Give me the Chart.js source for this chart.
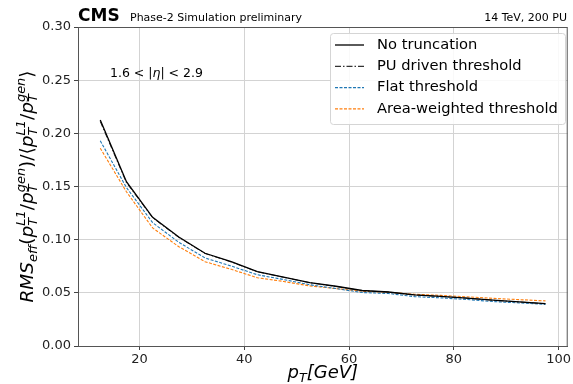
<!DOCTYPE html>
<html>
<head>
<meta charset="utf-8">
<script src="https://cdn.jsdelivr.net/npm/chart.js@4.4.1/dist/chart.umd.min.js"></script>
<style>
  html, body { margin: 0; padding: 0; background: #fff; }
  canvas { display: block; }
</style>
</head>
<body>
<canvas id="rmsChart" width="573" height="384"></canvas>
<script>
// pT bin centres (GeV)
const ptBins = [12.5, 17.5, 22.5, 27.5, 32.5, 37.5, 42.5, 47.5, 52.5, 57.5, 62.5, 67.5, 72.5, 77.5, 82.5, 87.5, 92.5, 97.5];

// effective RMS of the response
const noTruncation = [0.2125, 0.1545, 0.121, 0.1025, 0.0872, 0.0793, 0.0700, 0.0648, 0.0596, 0.0562, 0.0522, 0.0508, 0.0480, 0.0467, 0.0451, 0.0431, 0.0415, 0.0398];
const puDriven     = [0.2110, 0.1535, 0.1205, 0.1020, 0.0870, 0.0790, 0.0698, 0.0646, 0.0595, 0.0560, 0.0520, 0.0507, 0.0479, 0.0466, 0.0450, 0.0430, 0.0414, 0.0397];
const flatThr      = [0.193, 0.149, 0.116, 0.0975, 0.0828, 0.0752, 0.0670, 0.0625, 0.0576, 0.0540, 0.0503, 0.0494, 0.0464, 0.0453, 0.0437, 0.0418, 0.0405, 0.0391];
const areaWeighted = [0.186, 0.145, 0.111, 0.0934, 0.0793, 0.0721, 0.0642, 0.0607, 0.0565, 0.0540, 0.0514, 0.0505, 0.0487, 0.0476, 0.0463, 0.0448, 0.0436, 0.0424];

const seriesNames = ['No truncation', 'PU driven threshold', 'Flat threshold', 'Area-weighted threshold'];
const xTicks = [20, 40, 60, 80, 100];
const yTicks = [0, 0.05, 0.10, 0.15, 0.20, 0.25, 0.30];

const FONT = '"DejaVu Sans", sans-serif';

function pts(ys) {
    return ptBins.map((x, i) => ({ x: x, y: ys[i] }));
}

// mathtext-ish label: parts are {b, sub, sup, it}
function mathWidth(ctx, parts, size) {
    let w = 0;
    parts.forEach(p => {
        ctx.font = (p.it === false ? '' : 'italic ') + size + 'px ' + FONT;
        w += ctx.measureText(p.b || '').width;
        let s = 0;
        ctx.font = (p.it === false ? '' : 'italic ') + (size * 0.7) + 'px ' + FONT;
        if (p.sub) s = Math.max(s, ctx.measureText(p.sub).width);
        if (p.sup) s = Math.max(s, ctx.measureText(p.sup).width);
        w += s;
    });
    return w;
}

function drawMath(ctx, parts, x, y, size) {
    let cx = x;
    ctx.textAlign = 'left';
    ctx.textBaseline = 'alphabetic';
    parts.forEach(p => {
        const it = p.it === false ? '' : 'italic ';
        ctx.font = it + size + 'px ' + FONT;
        if (p.b) {
            ctx.fillText(p.b, cx, y);
            cx += ctx.measureText(p.b).width;
        }
        ctx.font = it + (size * 0.7) + 'px ' + FONT;
        let s = 0;
        if (p.sub) {
            ctx.fillText(p.sub, cx, y + size * 0.22);
            s = Math.max(s, ctx.measureText(p.sub).width);
        }
        if (p.sup) {
            ctx.fillText(p.sup, cx, y - size * 0.42);
            s = Math.max(s, ctx.measureText(p.sup).width);
        }
        cx += s;
    });
}

const yLabel = [
    { b: 'RMS', sub: 'eff' }, { b: '(', it: false }, { b: 'p', sub: 'T', sup: 'L1' }, { b: '/', it: false },
    { b: 'p', sub: 'T', sup: 'gen' }, { b: ')/\u27E8', it: false }, { b: 'p', sub: 'T', sup: 'L1' },
    { b: '/', it: false }, { b: 'p', sub: 'T', sup: 'gen' }, { b: '\u27E9', it: false }
];
const xLabel = [{ b: 'p', sub: 'T' }, { b: '[GeV]' }];

const decorPlugin = {
    id: 'decor',
    afterDraw(chart) {
        const ctx = chart.ctx;
        const a = chart.chartArea;
        ctx.save();

        // frame
        ctx.strokeStyle = '#555';
        ctx.lineWidth = 1;
        ctx.strokeRect(a.left + 0.5, a.top + 0.5, a.right - a.left - 1, a.bottom - a.top);

        ctx.fillStyle = '#000';
        // header
        ctx.font = 'bold 17px ' + FONT;
        ctx.textBaseline = 'alphabetic';
        ctx.textAlign = 'left';
        ctx.fillText('CMS', 78, 21);
        ctx.font = '11px ' + FONT;
        ctx.fillText('Phase-2 Simulation preliminary', 130, 21);
        ctx.textAlign = 'right';
        ctx.fillText('14 TeV, 200 PU', 567, 21);

        // eta range
        ctx.textAlign = 'left';
        ctx.font = '12.5px ' + FONT;
        ctx.fillText('1.6 < |', 110, 77);
        let w = ctx.measureText('1.6 < |').width;
        ctx.font = 'italic 12.5px ' + FONT;
        ctx.fillText('\u03B7', 110 + w, 77);
        w += ctx.measureText('\u03B7').width;
        ctx.font = '12.5px ' + FONT;
        ctx.fillText('| < 2.9', 110 + w, 77);

        // axis titles
        const xs = 18;
        const xw = mathWidth(ctx, xLabel, xs);
        drawMath(ctx, xLabel, (a.left + a.right) / 2 - xw / 2, 378, xs);

        const ys = 18.5;
        const yw = mathWidth(ctx, yLabel, ys);
        ctx.save();
        ctx.translate(33, (a.top + a.bottom) / 2);
        ctx.rotate(-Math.PI / 2);
        drawMath(ctx, yLabel, -yw / 2, 0, ys);
        ctx.restore();

        // legend
        const lx = 330, ly = 33, lw = 235, lh = 91;
        ctx.fillStyle = 'rgba(255,255,255,0.85)';
        ctx.strokeStyle = '#d5d5d5';
        ctx.lineWidth = 1;
        ctx.beginPath();
        ctx.roundRect(lx + 0.5, ly + 0.5, lw, lh, 3);
        ctx.fill();
        ctx.stroke();
        chart.data.datasets.forEach((ds, i) => {
            const yy = 45 + i * 21.3;
            ctx.strokeStyle = ds.borderColor;
            ctx.lineWidth = Math.max(ds.borderWidth, 1.2);
            ctx.setLineDash(ds.borderDash || []);
            ctx.beginPath();
            ctx.moveTo(335, yy);
            ctx.lineTo(364, yy);
            ctx.stroke();
            ctx.setLineDash([]);
            ctx.fillStyle = '#000';
            ctx.font = '14.7px ' + FONT;
            ctx.textAlign = 'left';
            ctx.textBaseline = 'middle';
            ctx.fillText(ds.label, 377, yy);
        });
        ctx.restore();
    }
};

const ctx = document.getElementById('rmsChart').getContext('2d');
new Chart(ctx, {
    type: 'line',
    data: {
        datasets: [
            { label: seriesNames[0], data: pts(noTruncation), borderColor: '#000000', borderWidth: 1.3 },
            { label: seriesNames[1], data: pts(puDriven), borderColor: '#333333', borderWidth: 1, borderDash: [6, 2, 1.5, 2] },
            { label: seriesNames[2], data: pts(flatThr), borderColor: '#1f77b4', borderWidth: 1.1, borderDash: [3, 1.5] },
            { label: seriesNames[3], data: pts(areaWeighted), borderColor: '#ff7f0e', borderWidth: 1.1, borderDash: [3, 1.5] }
        ]
    },
    options: {
        responsive: false,
        animation: false,
        devicePixelRatio: 1,
        layout: { padding: { top: 27, right: 2, left: 0, bottom: 0 } },
        elements: { point: { radius: 0 }, line: { tension: 0 } },
        plugins: { legend: { display: false }, tooltip: { enabled: false } },
        scales: {
            x: {
                type: 'linear',
                min: 8.25,
                max: 101.75,
                afterBuildTicks: s => { s.ticks = xTicks.map(v => ({ value: v })); },
                afterFit: s => { s.height = 38; },
                ticks: { color: '#222', font: { family: FONT, size: 13 }, padding: 2, maxRotation: 0 },
                grid: { color: '#d3d3d3', tickColor: '#444', tickLength: 4 },
                border: { color: '#555' }
            },
            y: {
                min: 0,
                max: 0.30,
                afterBuildTicks: s => { s.ticks = yTicks.map(v => ({ value: v })); },
                afterFit: s => { s.width = 78; },
                ticks: { color: '#222', font: { family: FONT, size: 13 }, padding: 3, callback: v => v.toFixed(2) },
                grid: { color: '#d3d3d3', tickColor: '#444', tickLength: 4 },
                border: { color: '#555' }
            }
        }
    },
    plugins: [decorPlugin]
});
</script>
</body>
</html>
